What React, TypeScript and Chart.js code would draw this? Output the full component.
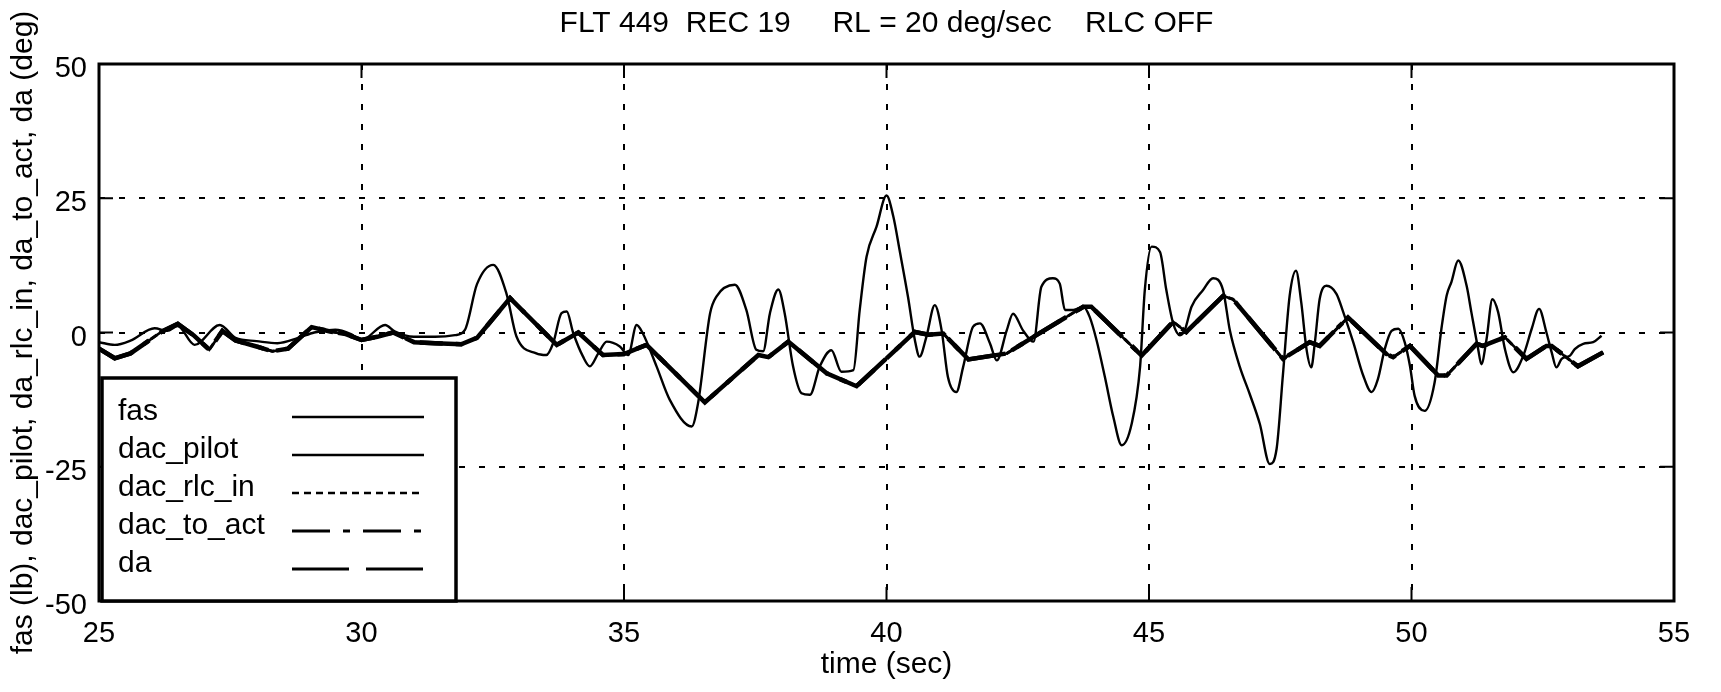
import React, { useEffect, useRef } from "react";
import { Chart, registerables } from "chart.js";

Chart.register(...registerables);

const TITLE = "FLT 449  REC 19     RL = 20 deg/sec    RLC OFF";
const X_TITLE = "time (sec)";
const Y_TITLE = "fas (lb), dac_pilot, da_rlc_in, da_to_act, da (deg)";
const X_TICKS = [25, 30, 35, 40, 45, 50, 55];
const Y_TICKS = [-50, -25, 0, 25, 50];
const SERIES_NAMES = ["fas", "dac_pilot", "dac_rlc_in", "dac_to_act", "da"];

// fas (lb) – stick force, thin large-amplitude trace
const fasTime = [
  25.0, 25.3, 25.6, 26.06, 26.3, 26.5, 26.82, 27.3, 27.6, 28.0, 28.4, 28.8, 29.1, 29.5, 29.8,
  30.0, 30.45, 30.63, 31.0, 31.4, 31.78, 31.97, 32.2, 32.51, 32.76, 32.95, 33.33, 33.52, 33.65,
  33.81, 33.91, 34.03, 34.22, 34.35, 34.51, 34.67, 34.92, 35.08, 35.24, 35.35, 35.62, 35.87,
  36.29, 36.41, 36.64, 36.76, 37.11, 37.33, 37.52, 37.65, 37.78, 37.94, 38.06, 38.22, 38.38,
  38.54, 38.73, 38.95, 39.14, 39.37, 39.49, 39.62, 39.81, 40.0, 40.13, 40.25, 40.41, 40.54,
  40.63, 40.76, 40.92, 41.05, 41.17, 41.33, 41.46, 41.65, 41.78, 41.97, 42.1, 42.29, 42.41,
  42.6, 42.8, 42.95, 43.17, 43.3, 43.4, 43.56, 43.75, 43.87, 44.0, 44.16, 44.32, 44.48, 44.67,
  44.83, 44.92, 45.05, 45.21, 45.33, 45.46, 45.59, 45.68, 45.81, 46.03, 46.22, 46.41, 46.54,
  46.73, 46.92, 47.11, 47.3, 47.43, 47.55, 47.68, 47.8, 47.9, 48.0, 48.09, 48.16, 48.25, 48.38,
  48.57, 48.7, 48.89, 49.08, 49.24, 49.36, 49.49, 49.62, 49.75, 49.87, 49.97, 50.06, 50.25,
  50.44, 50.57, 50.67, 50.76, 50.89, 51.05, 51.14, 51.27, 51.33, 51.43, 51.54, 51.65, 51.78,
  51.94, 52.13, 52.29, 52.43, 52.57, 52.67, 52.76, 52.86, 53.02, 53.11, 53.27, 53.46, 53.62,
];
const fasValue = [
  -1.8, -2.3, -1.5, 0.8, 0.3, 1.2, -2.3, 1.4, -1.0, -1.6, -2.0, -1.0, 0.0, 0.5, -0.3,
  -1.4, 1.4, 0.2, -0.8, -0.8, -0.5, 0.5, 9.0, 12.6, 7.3, -0.7, -3.9, -4.2, -2.0,
  3.6, 3.9, 0.0, -4.5, -6.3, -3.9, -1.7, -2.6, -4.2, 1.4, 0.0, -6.3, -12.5,
  -17.5, -13.2, 3.6, 6.7, 8.9, 4.2, -3.2, -3.5, 3.6, 8.0, 3.6, -6.3, -11.3,
  -11.6, -6.3, -3.3, -7.3, -7.0, 4.2, 14.1, 19.7, 25.5, 21.6, 15.3, 6.6, -1.4,
  -4.5, -0.8, 5.1, 0.4, -8.3, -11.1, -6.4, 1.1, 1.7, -2.0, -5.2, 0.4, 3.5,
  0.4, -1.7, 8.5, 10.1, 9.1, 4.2, 4.2, 4.8, 2.9, -1.4, -8.3, -15.7, -21.0, -17.0,
  -6.4, 7.9, 16.0, 15.0, 7.9, 1.7, -0.5, 0.4, 4.8, 7.9, 10.1, 7.9, 0.4,
  -6.4, -11.5, -17.0, -24.5, -21.7, -8.0, 6.9, 11.5, 5.6, -3.1, -6.5, -1.8, 6.2, 8.7,
  7.2, 3.8, -1.8, -8.0, -11.1, -8.7, -3.1, 0.3, 0.7, -1.8, -6.2, -11.8, -14.6,
  -9.3, 0.7, 6.9, 9.4, 13.4, 8.7, 3.8, -3.1, -5.9, -1.2, 6.2, 3.8, -3.1,
  -7.4, -4.3, 0.7, 4.4, 0.0, -3.7, -6.5, -4.9, -4.3, -3.1, -2.1, -1.8, -0.6,
];

// aileron command channels (deg) – nearly identical, RLC off
const cmdTime = [
  25.0, 25.3, 25.6, 26.2, 26.5, 26.8, 27.1, 27.35, 27.6, 28.0, 28.3, 28.6, 29.05, 29.4, 29.7,
  30.0, 30.3, 30.6, 31.0, 31.4, 31.9, 32.2, 32.83, 33.72, 34.13, 34.6, 35.0, 35.43, 36.54,
  37.56, 37.75, 38.13, 38.86, 39.43, 40.54, 40.8, 41.08, 41.56, 42.29, 42.8, 43.75, 43.9,
  44.86, 45.46, 45.71, 46.41, 46.6, 47.55, 48.06, 48.25, 48.79, 49.52, 49.65, 49.97, 50.51,
  50.67, 51.24, 51.36, 51.78, 52.19, 52.57, 52.67, 53.17, 53.65,
];
const dacPilot = [
  -3.0, -4.8, -3.9, 0.2, 1.6, -0.5, -3.2, 0.3, -1.5, -2.6, -3.5, -3.0, 1.0, 0.2, -0.3,
  -1.4, -0.8, 0.0, -1.8, -2.0, -2.2, -1.0, 6.4, -2.3, 0.0, -4.2, -4.0, -2.3, -13.0,
  -4.2, -4.6, -1.7, -7.6, -10.0, 0.1, -0.4, -0.2, -5.0, -3.9, -0.8, 4.8, 4.8,
  -4.3, 2.0, 0.1, 6.8, 6.2, -4.9, -1.8, -2.5, 2.8, -4.0, -4.6, -2.5, -8.0,
  -8.0, -2.1, -2.5, -0.9, -4.9, -2.5, -2.5, -6.3, -3.7,
];
const dacRlcIn = [
  -3.0, -4.8, -3.9, 0.2, 1.6, -0.5, -3.2, 0.3, -1.5, -2.6, -3.5, -3.0, 1.0, 0.2, -0.3,
  -1.4, -0.8, 0.0, -1.8, -2.0, -2.2, -1.0, 6.4, -2.3, 0.0, -4.2, -4.0, -2.3, -13.0,
  -4.2, -4.6, -1.7, -7.6, -10.0, 0.1, -0.4, -0.2, -5.0, -3.9, -0.8, 4.8, 4.8,
  -4.3, 2.0, 0.1, 6.8, 6.2, -4.9, -1.8, -2.5, 2.8, -4.0, -4.6, -2.5, -8.0,
  -8.0, -2.1, -2.5, -0.9, -4.9, -2.5, -2.5, -6.3, -3.7,
];
const dacToAct = [
  -3.0, -4.8, -3.9, 0.2, 1.6, -0.5, -3.2, 0.3, -1.5, -2.6, -3.5, -3.0, 1.0, 0.2, -0.3,
  -1.4, -0.8, 0.0, -1.8, -2.0, -2.2, -1.0, 6.4, -2.3, 0.0, -4.2, -4.0, -2.3, -13.0,
  -4.2, -4.6, -1.7, -7.6, -10.0, 0.1, -0.4, -0.2, -5.0, -3.9, -0.8, 4.8, 4.8,
  -4.3, 2.0, 0.1, 6.8, 6.2, -4.9, -1.8, -2.5, 2.8, -4.0, -4.6, -2.5, -8.0,
  -8.0, -2.1, -2.5, -0.9, -4.9, -2.5, -2.5, -6.3, -3.7,
];
const daValue = [
  -3.0, -4.8, -3.9, 0.2, 1.6, -0.5, -3.2, 0.3, -1.5, -2.6, -3.5, -3.0, 1.0, 0.2, -0.3,
  -1.4, -0.8, 0.0, -1.8, -2.0, -2.2, -1.0, 6.4, -2.3, 0.0, -4.2, -4.0, -2.3, -13.0,
  -4.2, -4.6, -1.7, -7.6, -10.0, 0.1, -0.4, -0.2, -5.0, -3.9, -0.8, 4.8, 4.8,
  -4.3, 2.0, 0.1, 6.8, 6.2, -4.9, -1.8, -2.5, 2.8, -4.0, -4.6, -2.5, -8.0,
  -8.0, -2.1, -2.5, -0.9, -4.9, -2.5, -2.5, -6.3, -3.7,
];

const FONT = "'Liberation Sans', Arial, Helvetica, sans-serif";

export default function App() {
  const ref = useRef<HTMLCanvasElement>(null);

  useEffect(() => {
    const canvas = ref.current;
    if (!canvas) return;
    const pts = (xs: number[], ys: number[]) => xs.map((x, i) => ({ x, y: ys[i] }));

    const styles = [
      { dash: [] as number[], width: 2.4, legendWidth: 2.4 },
      { dash: [] as number[], width: 2.6, legendWidth: 2.4 },
      { dash: [7, 5], width: 3, legendWidth: 2.4 },
      { dash: [38, 13, 7, 13], width: 4.5, legendWidth: 2.8 },
      { dash: [57, 17], width: 4.5, legendWidth: 2.8 },
    ];
    const series = [
      pts(fasTime, fasValue),
      pts(cmdTime, dacPilot),
      pts(cmdTime, dacRlcIn),
      pts(cmdTime, dacToAct),
      pts(cmdTime, daValue),
    ];

    const framePlugin = {
      id: "frameAndLegend",
      afterDatasetsDraw(chart: any) {
        const { ctx, chartArea: a, scales } = chart;
        ctx.save();
        ctx.setLineDash([]);
        ctx.strokeStyle = "#000";
        // inward tick marks
        ctx.lineWidth = 2;
        for (const v of X_TICKS) {
          if (v === X_TICKS[0] || v === X_TICKS[X_TICKS.length - 1]) continue;
          const px = scales.x.getPixelForValue(v);
          ctx.beginPath();
          ctx.moveTo(px, a.bottom);
          ctx.lineTo(px, a.bottom - 14);
          ctx.moveTo(px, a.top);
          ctx.lineTo(px, a.top + 14);
          ctx.stroke();
        }
        for (const v of Y_TICKS) {
          if (v === Y_TICKS[0] || v === Y_TICKS[Y_TICKS.length - 1]) continue;
          const py = scales.y.getPixelForValue(v);
          ctx.beginPath();
          ctx.moveTo(a.left, py);
          ctx.lineTo(a.left + 14, py);
          ctx.moveTo(a.right, py);
          ctx.lineTo(a.right - 14, py);
          ctx.stroke();
        }
        // axes box
        ctx.lineWidth = 3;
        ctx.strokeRect(a.left, a.top, a.right - a.left, a.bottom - a.top);

        // legend
        const L = a.left + 3;
        const B = a.bottom;
        const T = B - 223;
        const R = L + 354;
        ctx.fillStyle = "#fff";
        ctx.fillRect(L, T, R - L, B - T);
        ctx.lineWidth = 3.5;
        ctx.strokeRect(L, T, R - L, B - T);
        ctx.font = `30px ${FONT}`;
        ctx.textBaseline = "middle";
        ctx.textAlign = "left";
        ctx.fillStyle = "#000";
        SERIES_NAMES.forEach((name, i) => {
          const rowY = B - 189 + i * 38;
          ctx.fillText(name, L + 16, rowY);
          ctx.save();
          ctx.setLineDash(styles[i].dash);
          ctx.lineWidth = styles[i].legendWidth;
          ctx.beginPath();
          ctx.moveTo(L + 190, rowY + 5);
          ctx.lineTo(L + 322, rowY + 5);
          ctx.stroke();
          ctx.restore();
        });
        ctx.restore();
      },
    };

    const chart = new Chart(canvas, {
      type: "line",
      data: {
        datasets: SERIES_NAMES.map((name, i) => ({
          label: name,
          data: series[i],
          borderColor: "#000",
          backgroundColor: "#000",
          borderWidth: styles[i].width,
          borderDash: styles[i].dash,
          pointRadius: 0,
          fill: false,
          tension: 0,
          cubicInterpolationMode: i === 0 ? "monotone" : "default",
        })),
      },
      options: {
        responsive: false,
        animation: false,
        events: [],
        layout: { padding: { left: 0, right: 47, top: 0, bottom: 0 } },
        plugins: {
          legend: { display: false },
          tooltip: { enabled: false },
          title: {
            display: true,
            text: TITLE,
            fullSize: false,
            color: "#000",
            font: { family: FONT, size: 30, weight: "normal" },
            padding: { top: 6, bottom: 22 },
          },
        },
        scales: {
          x: {
            type: "linear",
            min: X_TICKS[0],
            max: X_TICKS[X_TICKS.length - 1],
            afterBuildTicks: (s: any) => {
              s.ticks = X_TICKS.map((v) => ({ value: v }));
            },
            afterFit: (s: any) => {
              s.height = 91;
            },
            ticks: {
              color: "#000",
              font: { family: FONT, size: 29 },
              padding: 16,
              maxRotation: 0,
              autoSkip: false,
              callback: (v: any) => String(v),
            },
            grid: {
              drawTicks: false,
              lineWidth: 2,
              color: (c: any) =>
                c.tick && (c.tick.value === X_TICKS[0] || c.tick.value === X_TICKS[X_TICKS.length - 1])
                  ? "rgba(0,0,0,0)"
                  : "#000",
            },
            border: { display: false, dash: [6, 14] },
            title: {
              display: true,
              text: X_TITLE,
              color: "#000",
              font: { family: FONT, size: 30 },
              padding: { top: 0, bottom: 9 },
            },
          },
          y: {
            type: "linear",
            min: Y_TICKS[0],
            max: Y_TICKS[Y_TICKS.length - 1],
            afterBuildTicks: (s: any) => {
              s.ticks = Y_TICKS.map((v) => ({ value: v }));
            },
            afterFit: (s: any) => {
              s.width = 99;
            },
            ticks: {
              color: "#000",
              font: { family: FONT, size: 29 },
              padding: 12,
              labelOffset: 5,
              autoSkip: false,
              callback: (v: any) => String(v),
            },
            grid: {
              drawTicks: false,
              lineWidth: 2,
              color: (c: any) =>
                c.tick && (c.tick.value === Y_TICKS[0] || c.tick.value === Y_TICKS[Y_TICKS.length - 1])
                  ? "rgba(0,0,0,0)"
                  : "#000",
            },
            border: { display: false, dash: [6, 14] },
            title: {
              display: true,
              text: Y_TITLE,
              color: "#000",
              font: { family: FONT, size: 30 },
              padding: { top: 6, bottom: 0 },
            },
          },
        },
      },
      plugins: [framePlugin],
    } as any);

    return () => chart.destroy();
  }, []);

  return (
    <div style={{ position: "absolute", left: 0, top: 0, width: 1721, height: 692, background: "#fff" }}>
      <canvas ref={ref} width={1721} height={692} style={{ display: "block", width: 1721, height: 692 }} />
    </div>
  );
}
